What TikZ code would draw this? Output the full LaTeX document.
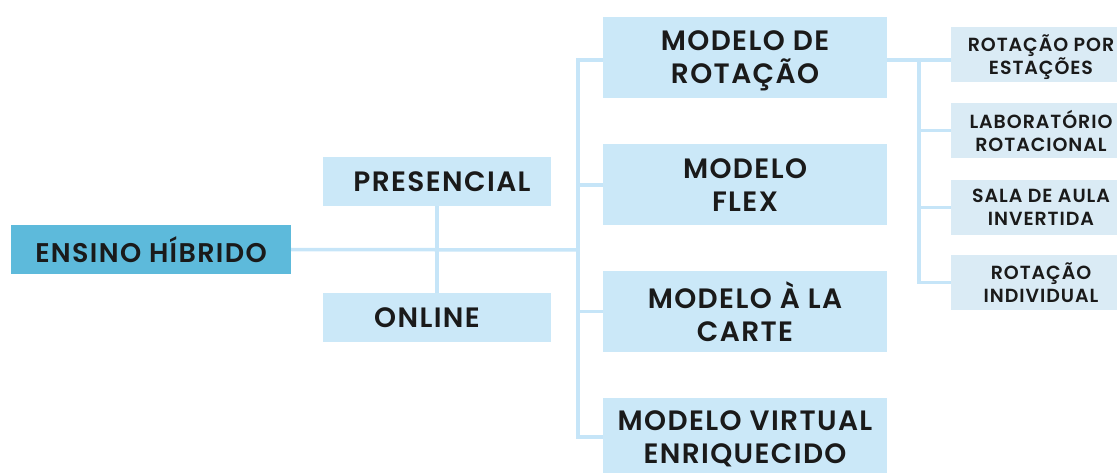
\documentclass[tikz,border=0pt]{standalone}
\usepackage{fontspec}
\setmainfont{Poppins}[UprightFont=* SemiBold, LetterSpace=5]
\definecolor{linec}{HTML}{C6E5F8}
\definecolor{mainf}{HTML}{CBE8F8}
\definecolor{subf}{HTML}{DAEBF5}
\definecolor{rootf}{HTML}{5DBADB}
\definecolor{txt}{HTML}{1A1A1A}
\begin{document}
\begin{tikzpicture}[x=1pt,y=1pt,
  box/.style={inner sep=0pt, align=center, text=txt},
  mainbox/.style={box, fill=mainf, minimum width=284pt, minimum height=81pt, text depth=0pt, font=\fontsize{28}{33}\selectfont},
  midbox/.style={box, fill=mainf, minimum width=228pt, minimum height=49pt, font=\fontsize{28}{30}\selectfont},
  rootbox/.style={box, fill=rootf, minimum width=280pt, minimum height=49pt, font=\fontsize{27}{30}\selectfont},
  subbox/.style={box, fill=subf, minimum width=180pt, minimum height=55pt, text depth=0pt, font=\fontsize{19}{23}\selectfont},
  conn/.style={draw=linec, line width=3.5pt}]
\useasboundingbox (0,0) rectangle (1117,472);
\clip (0,0) rectangle (1117,472);
% nodes
\node[rootbox] (ensino) at (151,222.5) {ENSINO HÍBRIDO};
\node[midbox] (pres) at (437,290.5) {\hspace{10pt}PRESENCIAL};
\node[midbox] (online) at (437,154.5) {ONLINE\hspace{20pt}};
\node[mainbox] (rot) at (745,414.5) {MODELO DE\\ROTAÇÃO};
\node[mainbox] (flex) at (745,287) {MODELO\\FLEX};
\node[mainbox] (carte) at (745,160.5) {MODELO À LA\\CARTE};
\node[mainbox, minimum height=78pt] (virt) at (745,35) {MODELO VIRTUAL\\ENRIQUECIDO};
\node[subbox] (s1) at (1041,417) {ROTAÇÃO POR\\ESTAÇÕES};
\node[subbox] (s2) at (1041,341.5) {LABORATÓRIO\\ROTACIONAL};
\node[subbox] (s3) at (1041,264.5) {SALA DE AULA\\INVERTIDA};
\node[subbox] (s4) at (1041,189.5) {ROTAÇÃO\\INDIVIDUAL};
% trunk coordinates
\coordinate (t1) at (578,222);
\coordinate (t2) at (919,412);
% connectors
\path[conn] (ensino.east) -- (t1);
\path[conn] (pres.south) -- (online.north);
\path[conn] (rot.west |- 0,412) -| (t1) |- (virt.west);
\path[conn] (t1) |- (flex.west);
\path[conn] (t1) |- (carte.west);
\path[conn] (rot.east |- t2) -- (s1.west |- t2);
\path[conn] (t2) |- (s4.west);
\path[conn] (t2) |- (s2.west);
\path[conn] (t2) |- (s3.west);
\end{tikzpicture}
\end{document}
